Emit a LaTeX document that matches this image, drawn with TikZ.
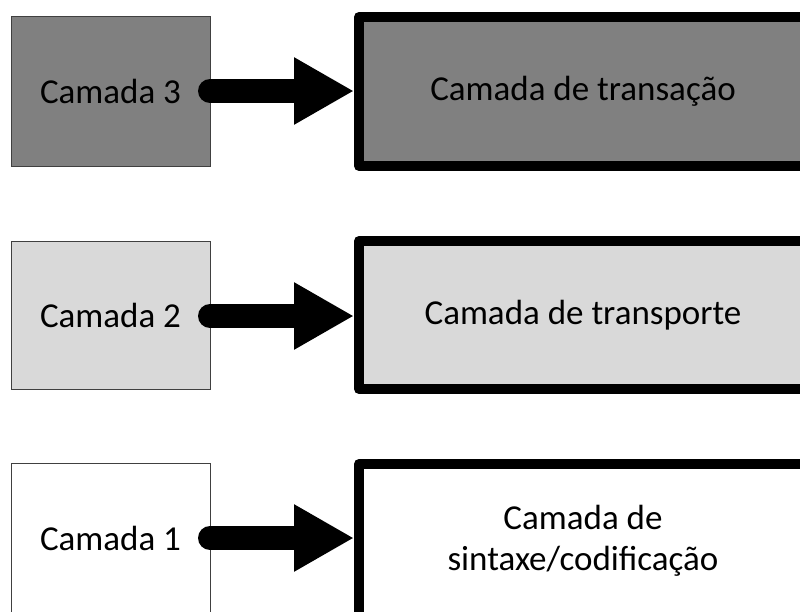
\documentclass[tikz,border=0pt]{standalone}
\usepackage{fontspec}
\setmainfont{Carlito}
\usetikzlibrary{arrows.meta}
\definecolor{darkfill}{HTML}{808080}
\definecolor{lightfill}{HTML}{D9D9D9}
\definecolor{thinedge}{HTML}{404040}
\begin{document}
\begin{tikzpicture}[x=1pt,y=-1pt,
  every node/.style={font=\fontsize{35}{41}\selectfont, text=black, inner sep=0pt, outer sep=0pt},
  layerbox/.style={draw=thinedge, line width=1pt, minimum width=199pt, minimum height=150pt},
  rolebox/.style={draw=black, line width=10pt, line join=round, minimum width=448pt, minimum height=149pt, align=center},
  bigarrow/.style={line width=24pt, line cap=round, -{Triangle[length=60pt,width=63pt]}, shorten >=5pt}
]
\useasboundingbox (0,0) rectangle (800,611);
\clip (0,0) rectangle (800,611);

% left column: the numbered layers
\node[layerbox, fill=darkfill]  (s3) at (110.5,91)  {Camada 3};
\node[layerbox, fill=lightfill, minimum height=148pt] (s2) at (110.5,315) {Camada 2};
\node[layerbox, fill=white, minimum height=170pt]     (s1) at (110.5,548) {};
\node (s1text) at (110.5,538) {Camada 1};

% right column: what each layer does
\node[rolebox, fill=darkfill]  (b3) at (583,91.5) {Camada de transação};
\node[rolebox, fill=lightfill, minimum height=148pt] (b2) at (583,315) {Camada de transporte};
\node[rolebox, fill=white, minimum height=154pt]     (b1) at (583,541) {};
\node[align=center] (b1text) at (583,541) {Camada de\\sintaxe/codificação};

% connectors
\draw[bigarrow] (s3.east) -- (b3.west |- s3.east);
\draw[bigarrow] (s2.east |- 0,316) -- (b2.west |- 0,316);
\draw[bigarrow] (s1.east |- 0,538) -- (b1.west |- 0,538);
\end{tikzpicture}
\end{document}
